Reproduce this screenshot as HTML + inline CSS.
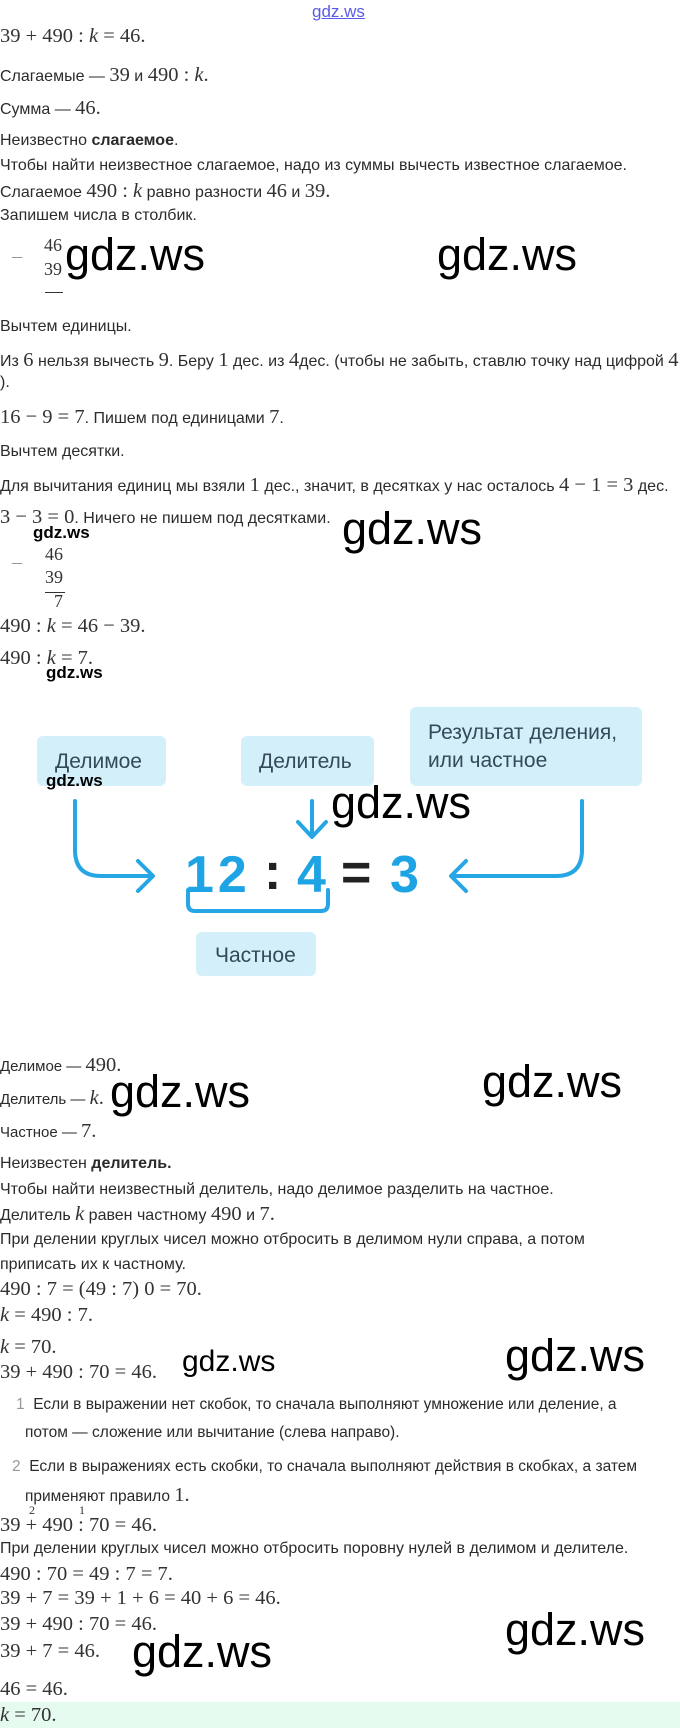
<!DOCTYPE html>
<html><head><meta charset="utf-8">
<style>
body{margin:0;width:680px;height:1728px;background:#fff;position:relative;overflow:hidden;font-family:"Liberation Sans",sans-serif;color:#2b2b2b}
.l{position:absolute;left:0;white-space:nowrap;font-size:16px;line-height:20px}
.m{font-family:"Liberation Serif",serif;font-size:20.5px;color:#333}
i.k{font-family:"Liberation Serif",serif;font-style:italic}
.g{position:absolute;font-family:"Liberation Sans",sans-serif;color:#000;white-space:nowrap;line-height:1}
.big{font-size:45px}
.sm{font-size:17px;font-weight:bold}
.md{font-size:30px}
</style></head><body>
<div class="g" style="left:312px;top:3px;font-size:17px;color:#5a5ae8;text-decoration:underline">gdz.ws</div>

<div class="l m" style="top:26px">39 + 490 : <i class="k">k</i> = 46.</div>
<div class="l" style="top:65px">Слагаемые — <span class="m">39</span> и <span class="m">490 : <i>k</i>.</span></div>
<div class="l" style="top:98px">Сумма — <span class="m">46.</span></div>
<div class="l" style="top:131px">Неизвестно <b>слагаемое</b>.</div>
<div class="l" style="top:156px">Чтобы найти неизвестное слагаемое, надо из суммы вычесть известное слагаемое.</div>
<div class="l" style="top:181px">Слагаемое <span class="m">490 : <i>k</i></span> равно разности <span class="m">46</span> и <span class="m">39.</span></div>
<div class="l" style="top:206px">Запишем числа в столбик.</div>

<div class="l m" style="top:246px;left:12px;color:#999">–</div>
<div class="l m" style="top:235px;left:44px;font-size:18px">46</div>
<div class="l m" style="top:259px;left:44px;font-size:18px">39</div>
<div style="position:absolute;left:45px;top:292px;width:18px;height:1px;background:#333"></div>
<div class="g big" style="left:65px;top:232px">gdz.ws</div>
<div class="g big" style="left:437px;top:232px">gdz.ws</div>

<div class="l" style="top:317px">Вычтем единицы.</div>
<div class="l" style="top:350px">Из <span class="m">6</span> нельзя вычесть <span class="m">9</span>. Беру <span class="m">1</span> дес. из <span class="m">4</span>дес. (чтобы не забыть, ставлю точку над цифрой <span class="m">4</span></div>
<div class="l" style="top:373px">).</div>
<div class="l" style="top:407px"><span class="m">16 − 9 = 7</span>. Пишем под единицами <span class="m">7</span>.</div>
<div class="l" style="top:442px">Вычтем десятки.</div>
<div class="l" style="top:475px">Для вычитания единиц мы взяли <span class="m">1</span> дес., значит, в десятках у нас осталось <span class="m">4 − 1 = 3</span> дес.</div>
<div class="l" style="top:507px"><span class="m">3 − 3 = 0</span>. Ничего не пишем под десятками.</div>
<div class="g big" style="left:342px;top:506px">gdz.ws</div>
<div class="g sm" style="left:33px;top:524px">gdz.ws</div>

<div class="l m" style="top:552px;left:12px;color:#999">–</div>
<div class="l m" style="top:544px;left:45px;font-size:18px">46</div>
<div class="l m" style="top:567px;left:45px;font-size:18px">39</div>
<div style="position:absolute;left:45px;top:592px;width:20px;height:1px;background:#333"></div>
<div class="l m" style="top:591px;left:54px;font-size:18px">7</div>

<div class="l m" style="top:616px">490 : <i>k</i> = 46 − 39.</div>
<div class="l m" style="top:648px">490 : <i>k</i> = 7.</div>
<div class="g sm" style="left:46px;top:664px">gdz.ws</div>

<svg style="position:absolute;left:0;top:700px" width="680" height="290" viewBox="0 700 680 290">
<g fill="#d3f0fa">
<rect x="37" y="736" width="129" height="50" rx="6"/>
<rect x="241" y="736" width="133" height="50" rx="6"/>
<rect x="410" y="707" width="232" height="79" rx="6"/>
<rect x="196" y="932" width="120" height="44" rx="6"/>
</g>
<g font-family="Liberation Sans,sans-serif" font-size="21" fill="#34495a">
<text x="55" y="768">Делимое</text>
<text x="259" y="768">Делитель</text>
<text x="428" y="739">Результат деления,</text>
<text x="428" y="767">или частное</text>
<text x="215" y="962">Частное</text>
</g>
<g fill="none" stroke="#27a6e6" stroke-width="4" stroke-linecap="round" stroke-linejoin="round">
<path d="M75 801 V850 Q75 876 101 876 H152"/>
<path d="M138 861 L153 876 L138 891"/>
<path d="M312 801 V836"/>
<path d="M298 822 L312 837 L326 822"/>
<path d="M582 801 V850 Q582 876 556 876 H452"/>
<path d="M466 861 L451 876 L466 891"/>
<path d="M188 890 V904 Q188 911 195 911 H321 Q328 911 328 904 V890"/>
</g>
<g font-family="Liberation Sans,sans-serif" font-size="52" font-weight="bold">
<text x="185" y="892" fill="#1ea3e4" letter-spacing="4">12</text>
<text x="264" y="889" fill="#222">:</text>
<text x="297" y="892" fill="#1ea3e4">4</text>
<text x="341" y="890" fill="#222">=</text>
<text x="390" y="892" fill="#1ea3e4">3</text>
</g>
</svg>
<div class="g sm" style="left:46px;top:772px">gdz.ws</div>
<div class="g big" style="left:331px;top:780px">gdz.ws</div>

<div class="l" style="top:1055px;font-size:15px">Делимое — <span class="m">490.</span></div>
<div class="l" style="top:1088px;font-size:15px">Делитель — <span class="m"><i>k</i>.</span></div>
<div class="g big" style="left:110px;top:1069px">gdz.ws</div>
<div class="g big" style="left:482px;top:1059px">gdz.ws</div>
<div class="l" style="top:1121px;font-size:15px">Частное — <span class="m">7.</span></div>
<div class="l" style="top:1154px">Неизвестен <b>делитель.</b></div>
<div class="l" style="top:1180px">Чтобы найти неизвестный делитель, надо делимое разделить на частное.</div>
<div class="l" style="top:1204px">Делитель <span class="m"><i>k</i></span> равен частному <span class="m">490</span> и <span class="m">7.</span></div>
<div class="l" style="top:1230px">При делении круглых чисел можно отбросить в делимом нули справа, а потом</div>
<div class="l" style="top:1255px">приписать их к частному.</div>
<div class="l m" style="top:1279px">490 : 7 = (49 : 7) 0 = 70.</div>
<div class="l m" style="top:1305px"><i>k</i> = 490 : 7.</div>
<div class="l m" style="top:1337px"><i>k</i> = 70.</div>
<div class="l m" style="top:1362px">39 + 490 : 70 = 46.</div>
<div class="g md" style="left:182px;top:1347px">gdz.ws</div>
<div class="g big" style="left:505px;top:1333px">gdz.ws</div>

<div class="l" style="top:1395px;left:16px;font-size:15.5px"><span style="color:#999">1</span>&nbsp; Если в выражении нет скобок, то сначала выполняют умножение или деление, а</div>
<div class="l" style="top:1423px;left:25px;font-size:15.5px">потом — сложение или вычитание (слева направо).</div>
<div class="l" style="top:1457px;left:12px;font-size:15.5px"><span style="color:#999">2</span>&nbsp; Если в выражениях есть скобки, то сначала выполняют действия в скобках, а затем</div>
<div class="l" style="top:1485px;left:25px;font-size:15.5px">применяют правило <span class="m">1.</span></div>
<div class="l m" style="top:1500px;left:29px;font-size:12px">2</div>
<div class="l m" style="top:1500px;left:79px;font-size:12px">1</div>
<div class="l m" style="top:1515px">39 + 490 : 70 = 46.</div>
<div class="l" style="top:1539px">При делении круглых чисел можно отбросить поровну нулей в делимом и делителе.</div>
<div class="l m" style="top:1564px">490 : 70 = 49 : 7 = 7.</div>
<div class="l m" style="top:1588px">39 + 7 = 39 + 1 + 6 = 40 + 6 = 46.</div>
<div class="l m" style="top:1614px">39 + 490 : 70 = 46.</div>
<div class="g big" style="left:505px;top:1607px">gdz.ws</div>
<div class="l m" style="top:1641px">39 + 7 = 46.</div>
<div class="g big" style="left:132px;top:1629px">gdz.ws</div>
<div class="l m" style="top:1679px">46 = 46.</div>
<div style="position:absolute;left:0;top:1702px;width:680px;height:26px;background:#e6fbef"></div>
<div class="l m" style="top:1705px"><i>k</i> = 70.</div>
</body></html>
